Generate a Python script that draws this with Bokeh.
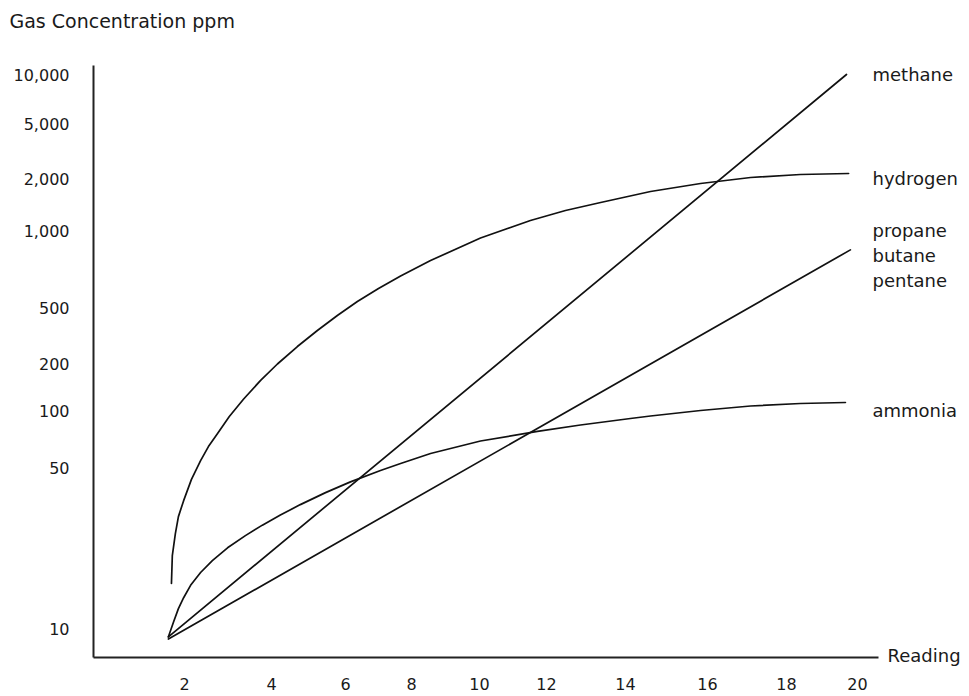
import numpy as np
from bokeh.plotting import figure
from bokeh.models import Range1d, FixedTicker, Label
from bokeh.embed import file_html
from bokeh.resources import INLINE

# ---------------- data ----------------
x_tick_values = [2, 4, 6, 8, 10, 12, 14, 16, 18, 20]
y_tick_values = [10, 50, 100, 200, 500, 1000, 2000, 5000, 10000]
y_tick_labels = ["10", "50", "100", "200", "500", "1,000", "2,000", "5,000", "10,000"]

methane_reading = [1.63, 19.69]
methane_ppm = [9.2, 10000]

propane_reading = [1.63, 19.80]
propane_ppm = [9.0, 840]

hydrogen_reading = [1.70, 1.72, 1.79, 1.86, 1.98, 2.16, 2.37, 2.55, 2.76, 3.03, 3.36, 3.75,
                    4.16, 4.70, 5.24, 5.78, 6.36, 7.00, 7.67, 8.56, 10.03, 11.52, 12.48,
                    13.37, 14.61, 15.83, 17.09, 18.39, 19.75]
hydrogen_ppm = [15.7, 20.7, 25.8, 30.6, 35.9, 44.4, 54.4, 64.5, 75.6, 92.9, 118.5, 156,
                198.5, 264, 343, 439, 528, 593, 664, 763, 935, 1143, 1306,
                1452, 1682, 1871, 2033, 2138, 2174]

ammonia_reading = [1.63, 1.75, 1.86, 1.98, 2.14, 2.37, 2.64, 2.99, 3.40, 3.79, 4.24, 4.78,
                   5.46, 6.15, 7.06, 7.67, 8.56, 10.03, 11.73, 12.86, 14.12, 14.61,
                   15.83, 17.09, 18.39, 19.66]
ammonia_ppm = [9.2, 10.7, 12.2, 13.6, 15.4, 17.5, 19.7, 22.4, 25.3, 28.1, 31.1, 34.5,
               38.9, 43.3, 48.5, 52.5, 59.3, 69.0, 77.5, 83.8, 90.7, 93.5,
               100, 106.9, 110.9, 112.5]

series_labels = ["methane", "hydrogen", ["propane", "butane", "pentane"], "ammonia"]
series_label_level = [10000, 2000, 1000, 100]   # label sits beside this axis value

# ------------- the hand-drawn (uneven) axis scales of the original -------------
X_SCALE_STOPS = [91, 178, 252, 318, 386, 453, 532, 614, 693, 764]
Y_SCALE_STOPS = [29, 190, 247, 294, 350, 427, 479, 534, 583]
X_AXIS_LEN = 785
Y_AXIS_LEN = 592

W, H = 966, 694
ORIGIN_X, ORIGIN_Y = 93, 657   # where the two axis lines meet on the canvas


def _interp(v, xs, ys):
    v = np.asarray(v, dtype=float)
    out = np.interp(v, xs, ys)
    lo_s = (ys[1] - ys[0]) / (xs[1] - xs[0])
    hi_s = (ys[-1] - ys[-2]) / (xs[-1] - xs[-2])
    out = np.where(v < xs[0], ys[0] + (v - xs[0]) * lo_s, out)
    out = np.where(v > xs[-1], ys[-1] + (v - xs[-1]) * hi_s, out)
    return out


def xmap(r):
    return _interp(r, np.array(x_tick_values, float), np.array(X_SCALE_STOPS, float))


def ymap(ppm):
    return _interp(np.log10(ppm), np.log10(np.array(y_tick_values, float)),
                   np.array(Y_SCALE_STOPS, float))


FONT = "DejaVu Sans"
INK = "#1a1a1a"

p = figure(width=W, height=H, output_backend="svg", toolbar_location=None,
           x_range=Range1d(-ORIGIN_X, W - ORIGIN_X),
           y_range=Range1d(-(H - ORIGIN_Y), ORIGIN_Y),
           min_border_left=0, min_border_right=0, min_border_top=0,
           min_border_bottom=0)
p.background_fill_color = "white"
p.border_fill_color = "white"
p.outline_line_color = None
p.grid.visible = False

# axes (drawn at the origin, limited to the drawn length)
p.xaxis.ticker = FixedTicker(ticks=X_SCALE_STOPS)
p.xaxis.major_label_overrides = {pos: str(v) for pos, v in zip(X_SCALE_STOPS, x_tick_values)}
p.xaxis.fixed_location = 0
p.xaxis.bounds = (0, X_AXIS_LEN)
p.yaxis.ticker = FixedTicker(ticks=Y_SCALE_STOPS)
p.yaxis.major_label_overrides = {pos: t for pos, t in zip(Y_SCALE_STOPS, y_tick_labels)}
p.yaxis.fixed_location = 0
p.yaxis.bounds = (0, Y_AXIS_LEN)
for ax in (p.xaxis[0], p.yaxis[0]):
    ax.major_tick_line_color = None
    ax.minor_tick_line_color = None
    ax.major_tick_out = 0
    ax.major_tick_in = 0
    ax.axis_line_color = "#222222"
    ax.axis_line_width = 2
    ax.major_label_text_font = FONT
    ax.major_label_text_font_size = "16px"
    ax.major_label_text_color = INK
p.yaxis.major_label_standoff = 24
p.xaxis.major_label_standoff = 20

# series
LINE = dict(line_color="#111111", line_width=1.7, line_join="round", line_cap="round")
for rd, pp in [(methane_reading, methane_ppm), (propane_reading, propane_ppm),
               (hydrogen_reading, hydrogen_ppm), (ammonia_reading, ammonia_ppm)]:
    p.line(xmap(rd), ymap(pp), **LINE)

TXT = dict(text_baseline="middle", text_align="left", text_font=FONT, text_color=INK)

# y-axis title, above the axis
p.add_layout(Label(x=0, y=Y_AXIS_LEN, x_offset=-84, y_offset=45,
                   text="Gas Concentration ppm", text_font_size="19px", **TXT))

# series labels
x_end = float(xmap(20))
for txt, lvl in zip(series_labels, series_label_level):
    lines = txt if isinstance(txt, list) else [txt]
    for i, t in enumerate(lines):
        p.add_layout(Label(x=x_end, y=float(ymap(lvl)), x_offset=15, y_offset=-25 * i,
                           text=t, text_font_size="18px", **TXT))

# x-axis title, at the end of the axis line
p.add_layout(Label(x=x_end, y=0, x_offset=30, y_offset=2, text="Reading",
                   text_font_size="18px", **TXT))

open("out.html", "w").write(file_html(p, INLINE))
